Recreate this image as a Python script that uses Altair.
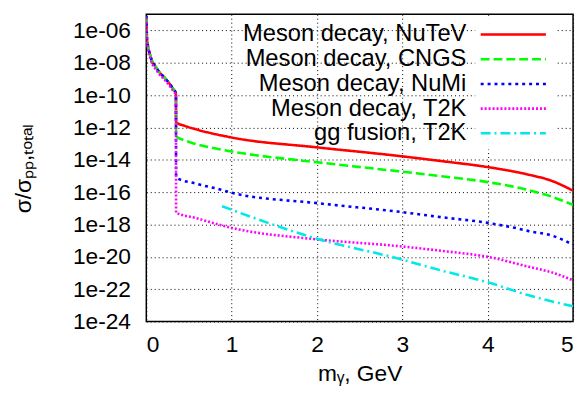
import altair as alt
import pandas as pd

series_names = [
    "Meson decay, NuTeV",
    "Meson decay, CNGS",
    "Meson decay, NuMi",
    "Meson decay, T2K",
    "gg fusion, T2K",
]
colors = ["#ff0000", "#00ff00", "#0000ff", "#ff00ff", "#00e8e8"]
dashes = [[1, 0], [9, 4], [3, 4], [2, 2], [10, 4, 2, 4]]

low_m = [0.002, 0.008, 0.046, 0.124, 0.24, 0.31, 0.347]
low_log = [-5.1, -6.5, -7.54, -8.36, -9.08, -9.58, -9.9]
low_log_t2k = [-5.2, -6.7, -7.7, -8.5, -9.2, -9.7, -10.0]

nutev_m = low_m + [0.349, 0.45, 0.58, 1.0, 2.0, 2.94, 3.46, 4.0, 4.48, 4.75, 5.0]
nutev_log = low_log + [-11.68, -11.9, -12.11, -12.62, -13.23, -13.75, -14.08, -14.45, -14.92, -15.3, -15.91]

cngs_m = low_m + [0.349, 0.45, 0.58, 1.0, 2.0, 2.94, 3.46, 4.0, 4.48, 4.75, 5.0]
cngs_log = low_log + [-12.55, -12.8, -13.02, -13.48, -14.15, -14.7, -15.02, -15.38, -15.87, -16.28, -16.79]

numi_m = low_m + [0.349, 0.58, 0.89, 1.0, 2.0, 2.94, 3.46, 4.0, 4.37, 4.48, 4.75, 5.0]
numi_log = low_log + [-15.1, -15.47, -15.87, -16.04, -16.68, -17.2, -17.55, -17.9, -18.27, -18.41, -18.68, -19.25]

t2k_m = low_m + [0.349, 0.58, 1.0, 2.0, 2.94, 3.46, 4.0, 4.48, 4.75, 5.0]
t2k_log = low_log_t2k + [-17.26, -17.6, -18.21, -18.92, -19.33, -19.63, -20.0, -20.61, -20.96, -21.45]

gg_m = [0.888, 1.0, 2.0, 2.94, 3.46, 4.0, 4.48, 5.0]
gg_log = [-16.87, -17.09, -18.88, -20.09, -20.85, -21.57, -22.38, -23.06]

x_ticks = [0, 1, 2, 3, 4, 5]
y_tick_exps = [-24, -22, -20, -18, -16, -14, -12, -10, -8, -6]

rows = []
for name, ms, ls in zip(series_names,
                        [nutev_m, cngs_m, numi_m, t2k_m, gg_m],
                        [nutev_log, cngs_log, numi_log, t2k_log, gg_log]):
    for i, (m, l) in enumerate(zip(ms, ls)):
        rows.append({"series": name, "m": m, "sigma": 10.0 ** l, "order": i})
df = pd.DataFrame(rows)

font = "Liberation Sans"

label_expr = ("'1e-' + (abs(round(log(datum.value)/LN10)) < 10 ? '0' : '') "
              "+ abs(round(log(datum.value)/LN10))")

chart = alt.Chart(df).mark_line(strokeWidth=2.6, clip=True, interpolate="monotone").encode(
    x=alt.X("m:Q", scale=alt.Scale(domain=[0, 5], nice=False),
            axis=alt.Axis(values=x_ticks, title="mᵧ, GeV", format="d",
                          grid=True, ticks=False, tickSize=0, labelPadding=12,
                          titlePadding=7)),
    y=alt.Y("sigma:Q", scale=alt.Scale(type="log", domain=[1e-24, 1e-5], nice=False),
            axis=alt.Axis(values=[10.0 ** e for e in y_tick_exps], labelExpr=label_expr,
                          title="σ/σₚₚ,ₜₒₜₐₗ", grid=True, ticks=False, tickSize=0,
                          labelPadding=16, titlePadding=37)),
    color=alt.Color("series:N", sort=series_names,
                    scale=alt.Scale(domain=series_names, range=colors),
                    legend=alt.Legend(title=None, orient="none", legendX=333, legendY=4,
                                      fillColor="white",
                                      symbolType="M-1,0H5", symbolSize=484,
                                      symbolStrokeWidth=2.6, labelFontSize=24,
                                      labelFont=font, labelColor="black",
                                      labelAlign="right", labelOffset={"expr": "-38"},
                                      labelLimit=400, rowPadding={"expr": "-1"},
                                      padding=4)),
    strokeDash=alt.StrokeDash("series:N", sort=series_names,
                              scale=alt.Scale(domain=series_names, range=dashes),
                              legend=None),
    order="order:Q",
    detail="series:N",
).properties(
    width=432, height=311,
    padding={"left": 5, "top": 4, "right": 5, "bottom": 5},
).configure_axis(
    labelFont=font, labelFontSize=23, labelColor="black",
    titleFont=font, titleFontSize=23, titleColor="black", titleFontWeight="normal",
    gridColor="black", gridDash=[1, 3], gridWidth=1, gridOpacity=1,
    domain=False,
).configure_view(
    stroke="black", strokeWidth=1.5,
)

chart.save("out.html", embed_options={"renderer": "svg", "actions": False})
